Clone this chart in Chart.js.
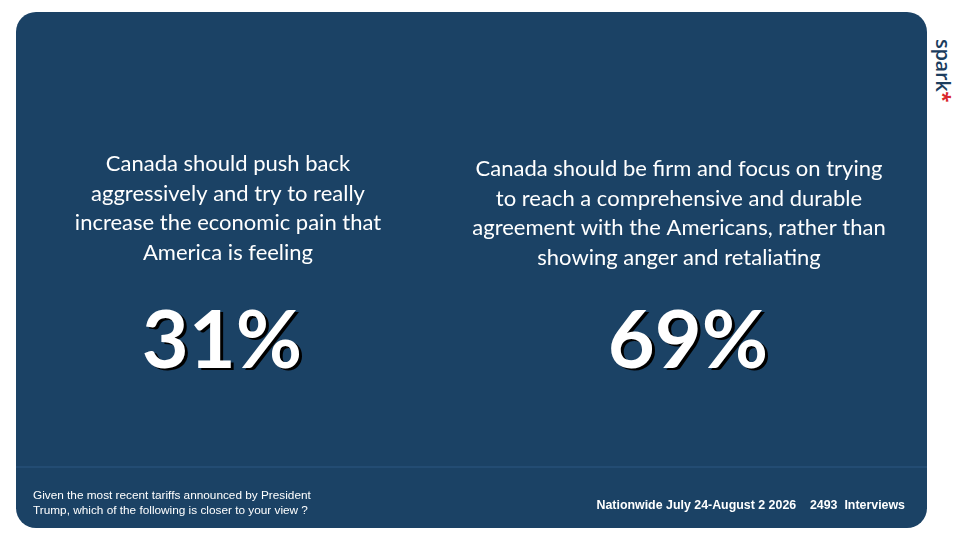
<!DOCTYPE html>
<html>
<head>
<meta charset="utf-8">
<script src="https://cdn.jsdelivr.net/npm/chart.js@4"></script>
<style>
  html, body { margin: 0; padding: 0; background: #fff; width: 960px; height: 540px; overflow: hidden; }
  #panel {
    position: absolute; left: 16px; top: 12px; width: 911px; height: 516px;
    background: #1b4265; border-radius: 20px;
  }
  #rule { position: absolute; left: 16px; top: 466px; width: 911px; height: 2px; background: #234c73; }
  #chart { position: absolute; left: -11px; top: 0; }
  #question {
    position: absolute; left: 33px; top: 488px; color: #fff;
    font: 11.8px "Liberation Sans", Arial, sans-serif; line-height: 15px;
  }
  #source {
    position: absolute; right: 55px; top: 498px; color: #fff; white-space: pre;
    font: bold 12.4px "Liberation Sans", Arial, sans-serif;
  }
  #logo {
    position: absolute; left: 912px; top: 57px; transform: rotate(90deg); transform-origin: center;
    color: #1b3d5e; font: 600 20px "Open Sans", sans-serif; letter-spacing: -0.3px; white-space: nowrap;
  }
  #logo span { color: #d9262b; font-weight: 700; }
</style>
</head>
<body>
<div id="panel"></div>
<div id="rule"></div>
<canvas id="chart" width="932" height="540"></canvas>
<div id="question">Given the most recent tariffs announced by President<br>Trump, which of the following is closer to your view ?</div>
<div id="source">Nationwide July 24-August 2 2026    2493  Interviews</div>
<div id="logo">spark<span>*</span></div>
<script>
// statements (one per column), shares in percent
const statements = [
  ["Canada should push back", "aggressively and try to really", "increase the economic pain that", "America is feeling"],
  ["Canada should be firm and focus on trying", "to reach a comprehensive and durable", "agreement with the Americans, rather than", "showing anger and retaliating"]
];
const shares = [31, 69];

// draws each category's statement and its share at the (invisible) bar position
const bigNumbers = {
  id: "bigNumbers",
  afterDatasetsDraw(chart) {
    const ctx = chart.ctx;
    const xs = chart.scales.x;
    ctx.save();
    ctx.textAlign = "center";
    ctx.textBaseline = "middle";
    statements.forEach((lines, i) => {
      const x = xs.getPixelForValue(i);
      ctx.fillStyle = "#fff";
      ctx.font = "22px Lato, sans-serif";
      lines.forEach((line, j) => {
        ctx.fillText(line, x + (i === 0 ? 6 : -9), (i === 0 ? 164 : 169) + j * 29.5);
      });
      const txt = shares[i] + "%";
      ctx.font = "bold 81px Lato, sans-serif";
      ctx.fillStyle = "#000";
      ctx.fillText(txt, x + 3, 342 + 2);
      ctx.fillStyle = "#fff";
      ctx.fillText(txt, x, 342);
    });
    ctx.restore();
  }
};

new Chart(document.getElementById("chart"), {
  type: "bar",
  data: {
    labels: statements,
    datasets: [{
      data: shares,
      backgroundColor: "rgba(0,0,0,0)"
    }]
  },
  options: {
    responsive: false,
    animation: false,
    events: [],
    layout: { padding: 0 },
    scales: {
      x: { display: false },
      y: { display: false, min: 0, max: 100 }
    },
    plugins: { legend: { display: false }, tooltip: { enabled: false } }
  },
  plugins: [bigNumbers]
});
</script>
</body>
</html>
